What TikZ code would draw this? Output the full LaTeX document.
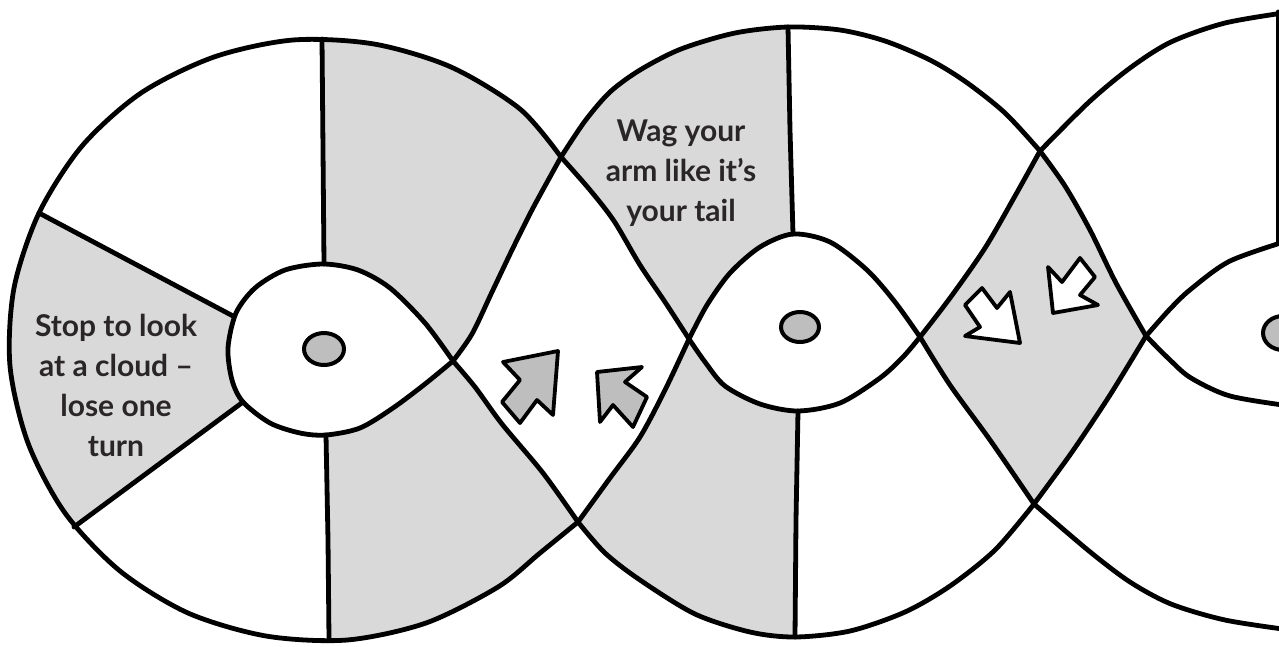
\documentclass[tikz,border=0pt]{standalone}
\usepackage{fontspec}
\newfontfamily\lato{Lato}
\definecolor{secgrey}{HTML}{D9D9D9}
\definecolor{dotgrey}{HTML}{BEBEBE}
\definecolor{inkc}{HTML}{2A2627}
\begin{document}
\begin{tikzpicture}[x=1pt,y=-1pt,
  ink/.style={line width=4.8pt, line cap=round, line join=round, draw=black},
  dotshape/.style={fill=dotgrey, draw=black, line width=4pt},
  arrowgrey/.style={fill=dotgrey, draw=black, line width=3.8pt, line join=round},
  arrowwhite/.style={fill=white, draw=black, line width=3.8pt, line join=round},
  txt/.style={font=\lato\bfseries\fontsize{30}{40}\selectfont, text=inkc, align=center, inner sep=0pt}]
\clip (0,0) rectangle (1279,646);
\fill[white] (0,0) rectangle (1279,646);
% ---------- wheel 1 grey base
\fill[secgrey] plot[smooth] coordinates {(561,157) (520,109) (451,67) (374,44) (293,40) (214,57) (141,93) (82,146) (39,213) (14,288) (10,366) (28,443) (65,513) (120,571) (188,613) (266,636) (347,640) (426,623) (498,587) (540,553) (578,522)}
  -- plot[smooth] coordinates {(578,522) (543,473) (502,424) (475,387) (453,361)}
  -- plot[smooth] coordinates {(453,361) (472,334) (492,292) (512,250) (533,208) (561,157)} -- cycle;
\begin{scope}
\clip plot[smooth] coordinates {(561,157) (520,109) (451,67) (374,44) (293,40) (214,57) (141,93) (82,146) (39,213) (14,288) (10,366) (28,443) (65,513) (120,571) (188,613) (266,636) (347,640) (426,623) (498,587) (540,553) (578,522)}
  -- plot[smooth] coordinates {(578,522) (543,473) (502,424) (475,387) (453,361)}
  -- plot[smooth] coordinates {(453,361) (472,334) (492,292) (512,250) (533,208) (561,157)} -- cycle;
\fill[white] (233,316) -- (-56,161) -- (-60,-60) -- (321,-60) -- (322,39) -- (324,264) -- (300,300) -- cycle;
\fill[white] (243,402) -- (-29,605) -- (-60,700) -- (330,700) -- (329,640) -- (326,435) -- (300,400) -- cycle;
\end{scope}
% ---------- wheel 2 grey left part
\begin{scope}
\clip plot[smooth] coordinates {(561,157) (585,121) (610,92) (640,70) (681,49) (735,33) (788,27) (840,30) (885,41) (930,60) (966,82) (1005,113) (1040,151)}
  -- plot[smooth] coordinates {(1040,151) (1015,196) (985,248) (950,298) (920,337)}
  -- plot[smooth] coordinates {(920,337) (950,385) (990,440) (1034,504)}
  -- plot[smooth] coordinates {(1034,504) (995,550) (950,586) (905,612) (850,631) (795,637) (750,632) (695,614) (640,580) (605,553) (578,522)}
  -- plot[smooth] coordinates {(578,522) (610,478) (640,437) (665,390) (689,339)}
  -- plot[smooth] coordinates {(689,339) (665,302) (640,265) (614,221) (590,190) (561,157)} -- cycle;
\fill[secgrey] (500,-50) -- (787,-50) -- (788,27) -- (793,234) -- (798,411) -- (795,637) -- (795,700) -- (500,700) -- cycle;
\end{scope}
% ---------- diamond between wheel 2 and 3
\fill[secgrey] plot[smooth] coordinates {(920,337) (950,298) (985,248) (1015,196) (1040,151)}
  -- plot[smooth] coordinates {(1040,151) (1065,186) (1090,230) (1116,283) (1146,336)}
  -- plot[smooth] coordinates {(1146,336) (1110,395) (1072,452) (1034,504)}
  -- plot[smooth] coordinates {(1034,504) (990,440) (950,385) (920,337)} -- cycle;
% ---------- inner white shapes
\fill[white] plot[smooth] coordinates {(453,361) (425,323) (390,288) (358,270) (323,264) (285,270) (255,288) (236,313) (228,348) (232,380) (243,402) (270,423) (300,433) (326,435) (360,428) (393,408) (425,384) (453,361)} -- cycle;
\fill[white] plot[smooth] coordinates {(689,339) (707,305) (730,273) (760,247) (793,234) (830,242) (867,270) (895,302) (920,337)}
  -- plot[smooth] coordinates {(920,337) (903,357) (880,378) (840,403) (798,411) (760,404) (725,386) (705,362) (689,339)} -- cycle;
% ---------- strokes
\draw[ink] plot[smooth] coordinates {(561,157) (520,109) (451,67) (374,44) (293,40) (214,57) (141,93) (82,146) (39,213) (14,288) (10,366) (28,443) (65,513) (120,571) (188,613) (266,636) (347,640) (426,623) (498,587) (540,553) (578,522)};
\draw[ink] plot[smooth] coordinates {(453,361) (472,334) (492,292) (512,250) (533,208) (561,157)};
\draw[ink] plot[smooth] coordinates {(453,361) (475,387) (502,424) (543,473) (578,522)};
\draw[ink] plot[smooth] coordinates {(561,157) (590,190) (614,221) (640,265) (665,302) (689,339)};
\draw[ink] plot[smooth] coordinates {(578,522) (610,478) (640,437) (665,390) (689,339)};
\draw[ink] plot[smooth] coordinates {(561,157) (585,121) (610,92) (640,70) (681,49) (735,33) (788,27) (840,30) (885,41) (930,60) (966,82) (1005,113) (1040,151)};
\draw[ink] plot[smooth] coordinates {(578,522) (605,553) (640,580) (695,614) (750,632) (795,637) (850,631) (905,612) (950,586) (995,550) (1034,504)};
\draw[ink] plot[smooth] coordinates {(689,339) (707,305) (730,273) (760,247) (793,234) (830,242) (867,270) (895,302) (920,337)};
\draw[ink] plot[smooth] coordinates {(689,339) (705,362) (725,386) (760,404) (798,411) (840,403) (880,378) (903,357) (920,337)};
\draw[ink] plot[smooth] coordinates {(920,337) (950,298) (985,248) (1015,196) (1040,151)};
\draw[ink] plot[smooth] coordinates {(920,337) (950,385) (990,440) (1034,504)};
\draw[ink] plot[smooth] coordinates {(1040,151) (1065,186) (1090,230) (1116,283) (1146,336)};
\draw[ink] plot[smooth] coordinates {(1034,504) (1072,452) (1110,395) (1146,336)};
\draw[ink] plot[smooth] coordinates {(1040,151) (1089,102) (1130,68) (1171,42) (1225,23) (1290,12)};
\draw[ink] plot[smooth] coordinates {(1034,504) (1089,551) (1130,582) (1171,604) (1225,620) (1290,630)};
\draw[ink] plot[smooth] coordinates {(1146,336) (1170,309) (1191,289) (1230,261) (1290,240)};
\draw[ink] plot[smooth] coordinates {(1146,336) (1170,360) (1191,378) (1230,396) (1290,406)};
\draw[ink] plot[smooth] coordinates {(453,361) (425,323) (390,288) (358,270) (323,264) (285,270) (255,288) (236,313) (228,348) (232,380) (243,402) (270,423) (300,433) (326,435) (360,428) (393,408) (425,384) (453,361)};
% spokes
\draw[ink] (322,39) -- (323,150) -- (324,264);
\draw[ink] (326,435) -- (328,540) -- (329,639);
\draw[ink] (39,213) -- (233,316);
\draw[ink] (74,527) -- (243,402);
\draw[ink] (788,27) -- (790,130) -- (793,234);
\draw[ink] (798,411) -- (796,520) -- (795,637);
\draw[ink] (1278,12) -- (1278,241);
% dots
\draw[dotshape] (324,349) ellipse [x radius=20, y radius=16];
\draw[dotshape] (800,327) ellipse [x radius=19, y radius=15];
\draw[dotshape] (1283,333) ellipse [x radius=20, y radius=17];
% arrows
\draw[arrowgrey] (558,351) -- (503,362) -- (520,380) -- (502,402) -- (520,423) -- (537,400) -- (553,415) -- cycle;
\draw[arrowgrey] (597,372) -- (642,367) -- (625,382) -- (647,397) -- (633,427) -- (613,405) -- (600,422) -- cycle;
\draw[arrowwhite] (1020,343) -- (965,336) -- (980,327) -- (965,305) -- (982,288) -- (997,308) -- (1010,292) -- cycle;
\draw[arrowwhite] (1053,313) -- (1098,305) -- (1080,295) -- (1095,277) -- (1080,258) -- (1062,282) -- (1048,267) -- cycle;
% texts
\node[txt] (stoptext) at (116,385) {Stop to look\\at a cloud –\\lose one\\turn};
\node[txt] (wagtext) at (681,173) {Wag your\\arm like it’s\\your tail};
\end{tikzpicture}
\end{document}
